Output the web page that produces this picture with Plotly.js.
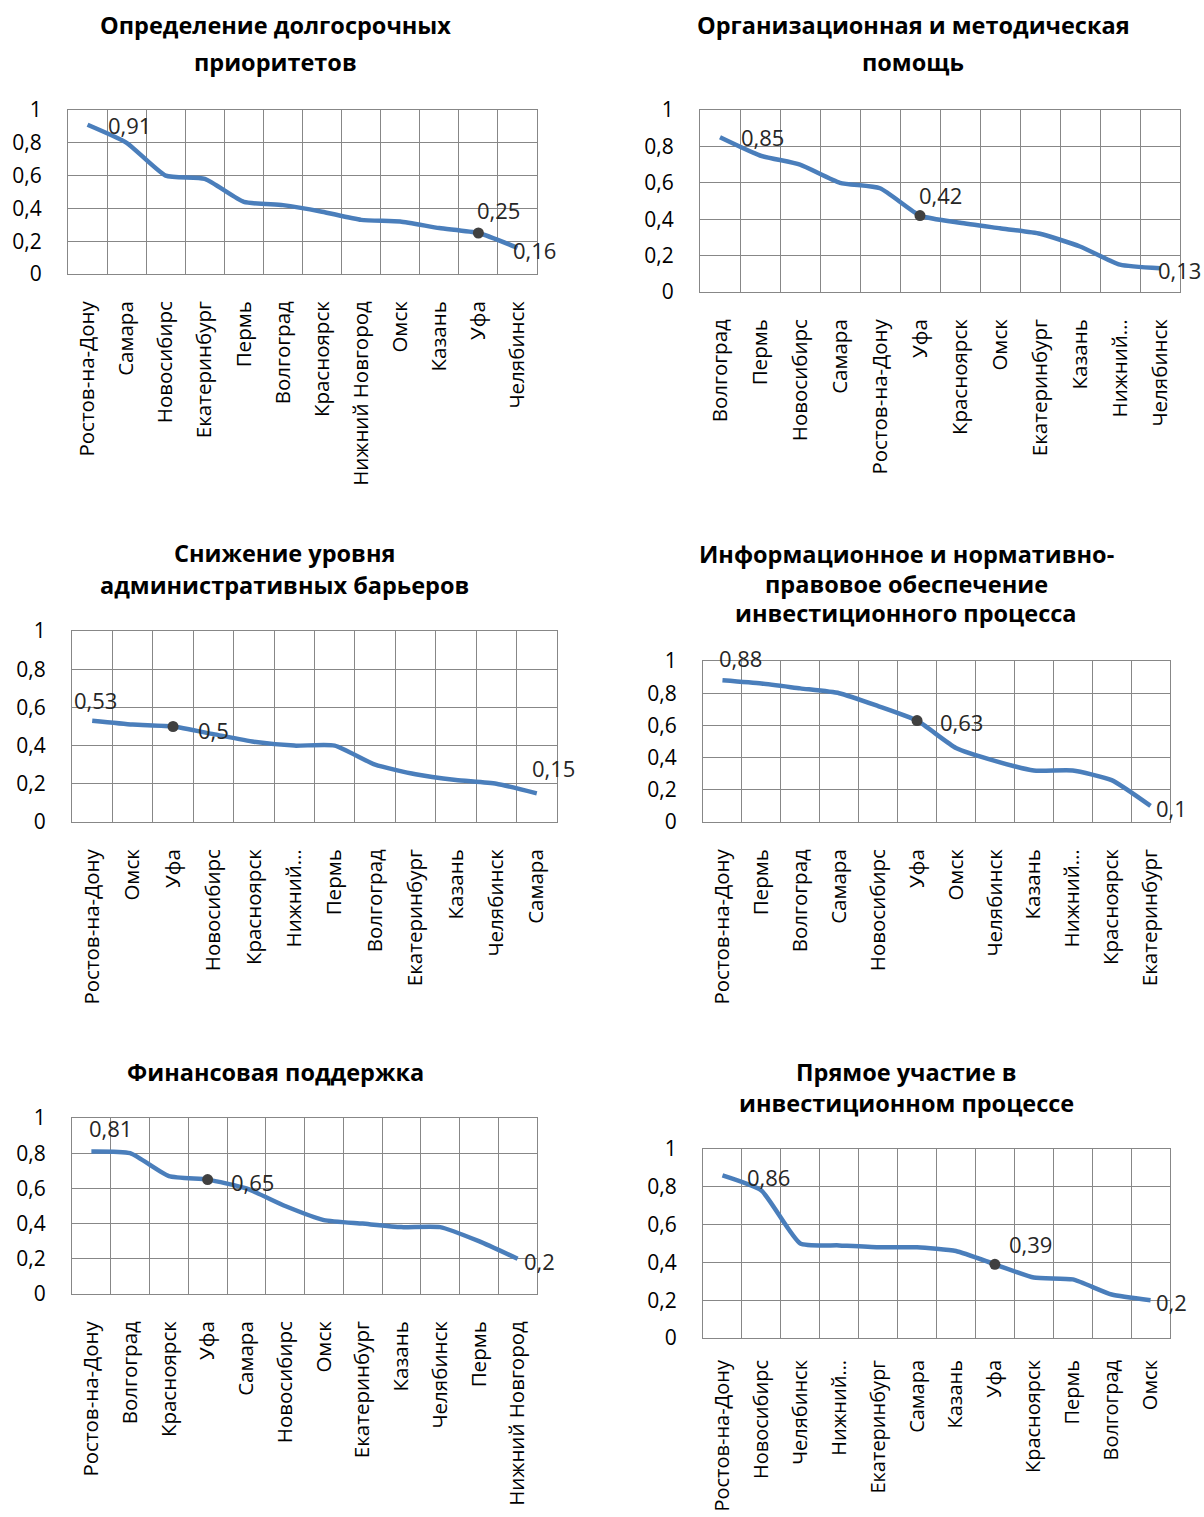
<!DOCTYPE html>
<html>
<head>
<meta charset="utf-8">
<script src="https://cdn.plot.ly/plotly-3.0.1.min.js"></script>
<style>
  html, body { margin: 0; padding: 0; background: #ffffff; }
  #chart { width: 1204px; height: 1517px; }
</style>
</head>
<body>
<div id="chart"></div>
<script>
// ---------------- DATA ----------------
const titles1 = ['Определение долгосрочных', 'приоритетов'];
const cities1 = ['Ростов-на-Дону','Самара','Новосибирс','Екатеринбург','Пермь','Волгоград','Красноярск','Нижний Новгород','Омск','Казань','Уфа','Челябинск'];
const values1 = [0.91,0.80,0.60,0.58,0.44,0.42,0.38,0.33,0.32,0.28,0.25,0.16];

const titles2 = ['Организационная и методическая', 'помощь'];
const cities2 = ['Волгоград','Пермь','Новосибирс','Самара','Ростов-на-Дону','Уфа','Красноярск','Омск','Екатеринбург','Казань','Нижний…','Челябинск'];
const values2 = [0.85,0.75,0.70,0.60,0.57,0.42,0.38,0.35,0.32,0.25,0.15,0.13];

const titles3 = ['Снижение уровня', 'административных барьеров'];
const cities3 = ['Ростов-на-Дону','Омск','Уфа','Новосибирс','Красноярск','Нижний…','Пермь','Волгоград','Екатеринбург','Казань','Челябинск','Самара'];
const values3 = [0.53,0.51,0.50,0.46,0.42,0.40,0.40,0.30,0.25,0.22,0.20,0.15];

const titles4 = ['Информационное и нормативно-', 'правовое обеспечение', 'инвестиционного процесса'];
const cities4 = ['Ростов-на-Дону','Пермь','Волгоград','Самара','Новосибирс','Уфа','Омск','Челябинск','Казань','Нижний…','Красноярск','Екатеринбург'];
const values4 = [0.88,0.86,0.83,0.80,0.72,0.63,0.46,0.38,0.32,0.32,0.26,0.10];

const titles5 = ['Финансовая поддержка'];
const cities5 = ['Ростов-на-Дону','Волгоград','Красноярск','Уфа','Самара','Новосибирс','Омск','Екатеринбург','Казань','Челябинск','Пермь','Нижний Новгород'];
const values5 = [0.81,0.80,0.67,0.65,0.60,0.50,0.42,0.40,0.38,0.38,0.30,0.20];

const titles6 = ['Прямое участие в', 'инвестиционном процессе'];
const cities6 = ['Ростов-на-Дону','Новосибирс','Челябинск','Нижний…','Екатеринбург','Самара','Казань','Уфа','Красноярск','Пермь','Волгоград','Омск'];
const values6 = [0.86,0.78,0.50,0.49,0.48,0.48,0.46,0.39,0.32,0.31,0.23,0.20];

const highlightCity = 'Уфа';
const yTicks = [0, 0.2, 0.4, 0.6, 0.8, 1];

// ---------------- LAYOUT / STYLE ----------------
const W = 1204, H = 1517;
const panels = [
  { titles: titles1, cities: cities1, values: values1,
    box: [68, 537, 110, 274], titleX: 275, titleY: [25, 62], xStandoff: 18, xFont: 20.5,
    shifts: [[42, 0], [20, 23], [17, -2]] },
  { titles: titles2, cities: cities2, values: values2,
    box: [700, 1180, 110, 292], titleX: 913, titleY: [25, 62], xStandoff: 18, xFont: 20.5,
    shifts: [[42, 0], [20, 21], [19, -2]] },
  { titles: titles3, cities: cities3, values: values3,
    box: [72, 557, 631, 822], titleX: 284, titleY: [553, 585], xStandoff: 18, xFont: 20.5,
    shifts: [[3, 21], [40, -3], [17, 25]] },
  { titles: titles4, cities: cities4, values: values4,
    box: [703, 1170, 661, 822], titleX: 906, titleY: [554, 584, 613], xStandoff: 18, xFont: 20.5,
    shifts: [[18, 22], [44, -1], [21, -2]] },
  { titles: titles5, cities: cities5, values: values5,
    box: [72, 537, 1118, 1294], titleX: 275, titleY: [1072], xStandoff: 18, xFont: 20.5,
    shifts: [[19, 23], [45, -2], [22, -2]] },
  { titles: titles6, cities: cities6, values: values6,
    box: [703, 1170, 1149, 1338], titleX: 906, titleY: [1072, 1103], xStandoff: 13, xFont: 20,
    shifts: [[46, -2], [36, 20], [21, -2]] }
];

const lineColor = '#4a7ebb';
const gridColor = '#878787';
const fontFamily = '"Open Sans", "DejaVu Sans", sans-serif';
const fmt = v => String(v).replace('.', ',');

const data = [];
const annotations = [];
const layout = {
  width: W, height: H,
  margin: { l: 0, r: 0, t: 0, b: 0 },
  paper_bgcolor: '#ffffff',
  plot_bgcolor: '#ffffff',
  showlegend: false,
  separators: ', ',
  font: { family: fontFamily, color: '#000000' }
};

panels.forEach((p, i) => {
  const n = i + 1;
  const xa = 'x' + (n === 1 ? '' : n);
  const ya = 'y' + (n === 1 ? '' : n);
  const xKey = 'xaxis' + (n === 1 ? '' : n);
  const yKey = 'yaxis' + (n === 1 ? '' : n);
  const [x0, x1, yt, yb] = p.box;

  layout[xKey] = {
    domain: [x0 / W, x1 / W],
    anchor: ya,
    type: 'category',
    categoryorder: 'array',
    categoryarray: p.cities,
    range: [-0.5, p.cities.length - 0.5],
    tickson: 'boundaries',
    showgrid: true, gridcolor: gridColor, gridwidth: 1,
    showline: true, linecolor: gridColor, linewidth: 1, mirror: true,
    ticks: '', tickangle: -90,
    ticklabelstandoff: p.xStandoff,
    tickfont: { family: fontFamily, size: p.xFont, color: '#000000' },
    zeroline: false, fixedrange: true
  };
  layout[yKey] = {
    domain: [1 - yb / H, 1 - yt / H],
    anchor: xa,
    range: [0, 1],
    tickmode: 'array', tickvals: yTicks,
    showgrid: true, gridcolor: gridColor, gridwidth: 1,
    showline: true, linecolor: gridColor, linewidth: 1, mirror: true,
    ticks: '', ticklabelstandoff: 21,
    tickfont: { family: fontFamily, size: 21, color: '#000000' },
    zeroline: false, fixedrange: true
  };

  data.push({
    type: 'scatter', mode: 'lines',
    x: p.cities, y: p.values,
    xaxis: xa, yaxis: ya,
    line: { color: lineColor, width: 4.5, shape: 'spline', smoothing: 0.5 },
    hoverinfo: 'skip'
  });

  const hi = p.cities.indexOf(highlightCity);
  data.push({
    type: 'scatter', mode: 'markers',
    x: [p.cities[hi]], y: [p.values[hi]],
    xaxis: xa, yaxis: ya,
    marker: { color: '#404040', size: 11 },
    hoverinfo: 'skip'
  });

  const labelIdx = [0, hi, p.cities.length - 1];
  labelIdx.forEach((k, j) => {
    annotations.push({
      xref: xa, yref: ya,
      x: p.cities[k], y: p.values[k],
      text: fmt(p.values[k]),
      showarrow: false,
      xanchor: 'center', yanchor: 'middle',
      xshift: p.shifts[j][0], yshift: p.shifts[j][1],
      font: { family: fontFamily, size: 22, color: '#262626' }
    });
  });

  p.titles.forEach((t, j) => {
    annotations.push({
      xref: 'paper', yref: 'paper',
      x: p.titleX / W, y: 1 - p.titleY[j] / H,
      text: t, showarrow: false,
      xanchor: 'center', yanchor: 'middle',
      font: { family: fontFamily, size: 23.5, color: '#000000', weight: 700 }
    });
  });
});

layout.annotations = annotations;

Plotly.newPlot('chart', data, layout, { staticPlot: true, displayModeBar: false });
</script>
</body>
</html>
